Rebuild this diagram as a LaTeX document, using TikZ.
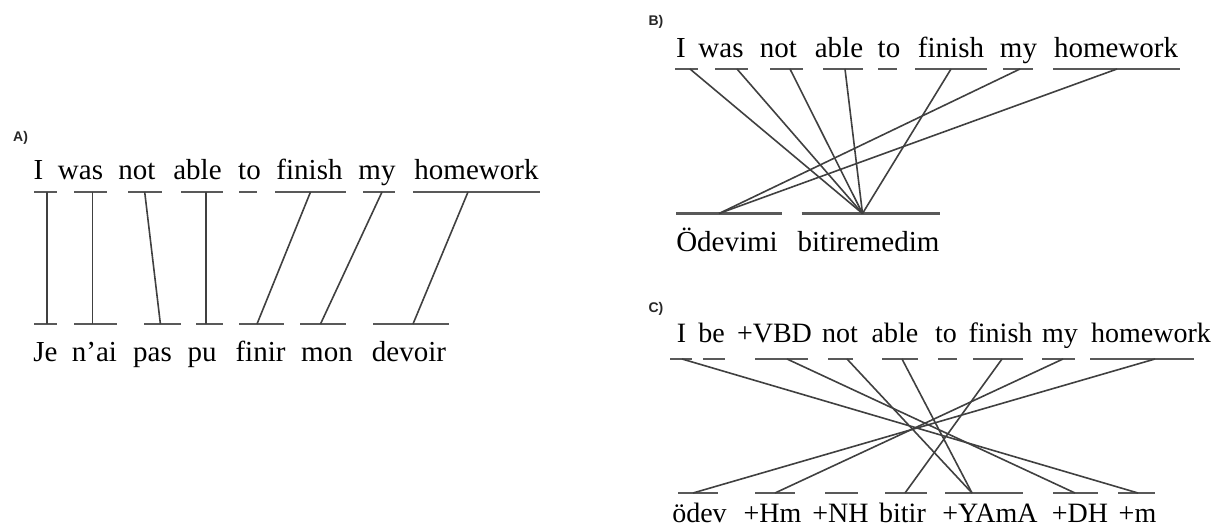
\documentclass[tikz,border=0pt]{standalone}
\usepackage{fontspec}
\setmainfont{Liberation Serif}
\setsansfont{Liberation Sans}
\begin{document}
\begin{tikzpicture}[x=0.5pt,y=-0.5pt,
  wordA/.style={inner sep=0pt, anchor=base, text=black, font=\fontsize{14.5}{17}\selectfont},
  wordC/.style={inner sep=0pt, anchor=base, text=black, font=\fontsize{14}{17}\selectfont},
  tag/.style={inner sep=0pt, text=black!85, font=\sffamily\bfseries\fontsize{7}{8}\selectfont},
  bar/.style={draw=black!65, line width=1.2pt},
  link/.style={draw=black!75, line width=0.8pt}]
\useasboundingbox (0,0) rectangle (1215,528);

% ---------------- Panel A ----------------
\node[tag] (tA) at (20.6,138) {A)};
\node[wordA] (a1) at (38.5,180) {I};
\node[wordA] (a2) at (80.5,180) {was};
\node[wordA] (a3) at (137,180) {not};
\node[wordA] (a4) at (197.5,180) {able};
\node[wordA] (a5) at (249.5,180) {to};
\node[wordA] (a6) at (309.5,180) {finish};
\node[wordA] (a7) at (377,180) {my};
\node[wordA] (a8) at (476.5,180) {homework};
\node[wordA] (f1) at (45.5,362) {Je};
\node[wordA] (f2) at (94.5,362) {n’ai};
\node[wordA] (f3) at (152.5,362) {pas};
\node[wordA] (f4) at (202,362) {pu};
\node[wordA] (f5) at (260.5,362) {finir};
\node[wordA] (f6) at (327,362) {mon};
\node[wordA] (f7) at (409,362) {devoir};

\draw[bar] (34,192) -- (57,192);
\draw[bar] (74,192) -- (107,192);
\draw[bar] (128,192) -- (162,192);
\draw[bar] (181,192) -- (223,192);
\draw[bar] (239,192) -- (257,192);
\draw[bar] (275,192) -- (346,192);
\draw[bar] (363,192) -- (395,192);
\draw[bar] (413,192) -- (540,192);
\draw[bar] (34,324) -- (57,324);
\draw[bar] (74,324) -- (117,324);
\draw[bar] (144,324) -- (181,324);
\draw[bar] (196,324) -- (223,324);
\draw[bar] (239,324) -- (284,324);
\draw[bar] (300,324) -- (346,324);
\draw[bar] (373,324) -- (449,324);

\coordinate (pa1) at (46.7,192);  \coordinate (qa1) at (46.7,324);
\coordinate (pa2) at (92.6,192);  \coordinate (qa2) at (92.6,324);
\coordinate (pa3) at (144.7,192); \coordinate (qa3) at (160.4,324);
\coordinate (pa4) at (205.7,192); \coordinate (qa4) at (205.7,324);
\coordinate (pa6) at (310.5,192); \coordinate (qa5) at (257,324);
\coordinate (pa7) at (382,192);   \coordinate (qa6) at (320.5,324);
\coordinate (pa8) at (468,192);   \coordinate (qa7) at (413,324);
\draw[link] (pa1) -- (qa1);
\draw[link] (pa2) -- (qa2);
\draw[link] (pa3) -- (qa3);
\draw[link] (pa4) -- (qa4);
\draw[link] (pa6) -- (qa5);
\draw[link] (pa7) -- (qa6);
\draw[link] (pa8) -- (qa7);

% ---------------- Panel B ----------------
\node[tag] (tB) at (656,21.5) {B)};
\node[wordA] (b1) at (681,58) {I};
\node[wordA] (b2) at (721,58) {was};
\node[wordA] (b3) at (778.5,58) {not};
\node[wordA] (b4) at (839,58) {able};
\node[wordA] (b5) at (889,58) {to};
\node[wordA] (b6) at (951,58) {finish};
\node[wordA] (b7) at (1018.5,58) {my};
\node[wordA] (b8) at (1116,58) {homework};
\node[wordA] (t1) at (727,252) {Ödevimi};
\node[wordA] (t2) at (868.5,252) {bitiremedim};

\draw[bar] (675,69) -- (698,69);
\draw[bar] (715,69) -- (748,69);
\draw[bar] (770,69) -- (803,69);
\draw[bar] (823,69) -- (863,69);
\draw[bar] (878,69) -- (897,69);
\draw[bar] (915,69) -- (987,69);
\draw[bar] (1003,69) -- (1033,69);
\draw[bar] (1053,69) -- (1180,69);
\draw[bar] (676,213.5) -- (782,213.5);
\draw[bar] (801.5,213.5) -- (940,213.5);

\coordinate (pb1) at (690,69);
\coordinate (pb2) at (737,69);
\coordinate (pb3) at (790,69);
\coordinate (pb4) at (845,69);
\coordinate (pb6) at (951,69);
\coordinate (pb7) at (1020,69);
\coordinate (pb8) at (1117,69);
\coordinate (qb1) at (719,213.5);
\coordinate (qb2) at (862.5,213.5);
\draw[link] (pb1) -- (qb2);
\draw[link] (pb2) -- (qb2);
\draw[link] (pb3) -- (qb2);
\draw[link] (pb4) -- (qb2);
\draw[link] (pb6) -- (qb2);
\draw[link] (pb7) -- (qb1);
\draw[link] (pb8) -- (qb1);

% ---------------- Panel C ----------------
\node[tag] (tC) at (656,309) {C)};
\node[wordC] (c1) at (681.5,343) {I};
\node[wordC] (c2) at (711.5,343) {be};
\node[wordC] (c3) at (774.5,343) {+VBD};
\node[wordC] (c4) at (840,343) {not};
\node[wordC] (c5) at (895,343) {able};
\node[wordC] (c6) at (946,343) {to};
\node[wordC] (c7) at (1000.5,343) {finish};
\node[wordC] (c8) at (1060,343) {my};
\node[wordC] (c9) at (1151,343) {homework};
\node[wordC] (d1) at (699.5,523) {ödev};
\node[wordC] (d2) at (772.5,523) {+Hm};
\node[wordC] (d3) at (840.5,523) {+NH};
\node[wordC] (d4) at (902.5,523) {bitir};
\node[wordC] (d5) at (990,523) {+YAmA};
\node[wordC] (d6) at (1080,523) {+DH};
\node[wordC] (d7) at (1137.5,523) {+m};

\draw[bar] (670,359) -- (692,359);
\draw[bar] (703,359) -- (725,359);
\draw[bar] (755,359) -- (808,359);
\draw[bar] (828,359) -- (853,359);
\draw[bar] (882,359) -- (918,359);
\draw[bar] (938,359) -- (957,359);
\draw[bar] (973,359) -- (1023,359);
\draw[bar] (1042,359) -- (1075,359);
\draw[bar] (1090,359) -- (1194,359);
\draw[bar] (678,493) -- (718,493);
\draw[bar] (755,493) -- (795,493);
\draw[bar] (825,493) -- (858,493);
\draw[bar] (885,493) -- (927,493);
\draw[bar] (945,493) -- (1023,493);
\draw[bar] (1053,493) -- (1098,493);
\draw[bar] (1118,493) -- (1155,493);

\coordinate (pc1) at (682,359);
\coordinate (pc3) at (787,359);
\coordinate (pc4) at (847,359);
\coordinate (pc5) at (902,359);
\coordinate (pc7) at (1002,359);
\coordinate (pc8) at (1063,359);
\coordinate (pc9) at (1155,359);
\coordinate (qc1) at (693,493);
\coordinate (qc2) at (775,493);
\coordinate (qc4) at (905,493);
\coordinate (qc5) at (972,493);
\coordinate (qc6) at (1075,493);
\coordinate (qc7) at (1138,493);
\draw[link] (pc1) -- (qc7);
\draw[link] (pc3) -- (qc6);
\draw[link] (pc4) -- (qc5);
\draw[link] (pc5) -- (qc5);
\draw[link] (pc7) -- (qc4);
\draw[link] (pc8) -- (qc2);
\draw[link] (pc9) -- (qc1);
\end{tikzpicture}
\end{document}
